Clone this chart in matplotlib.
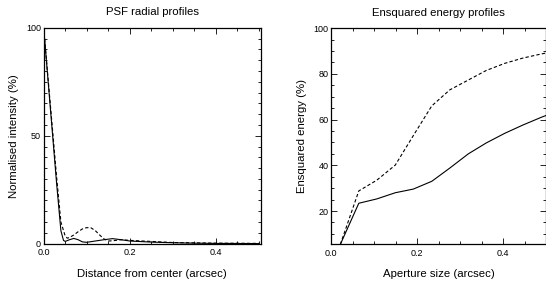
import matplotlib
matplotlib.use("Agg")
import matplotlib.pyplot as plt
from matplotlib.ticker import MultipleLocator

plt.rcParams['font.family'] = ['Liberation Sans', 'DejaVu Sans']

# PSF radial profiles (left)
psf_solid_x = [0, 0.01, 0.02, 0.03, 0.04, 0.046, 0.05, 0.06, 0.07, 0.08, 0.09, 0.10,
               0.12, 0.14, 0.16, 0.18, 0.20, 0.25, 0.30, 0.35, 0.40, 0.45, 0.50]
psf_solid_y = [100, 76, 52, 28, 6, 1.5, 1.0, 1.8, 2.4, 1.8, 0.8, 0.6,
               1.2, 1.8, 2.3, 1.8, 1.2, 0.7, 0.4, 0.2, 0.1, 0.05, 0.0]
psf_dash_x = [0, 0.01, 0.02, 0.03, 0.04, 0.05, 0.055, 0.06, 0.07, 0.08, 0.09, 0.10,
              0.11, 0.12, 0.13, 0.14, 0.15, 0.16, 0.18, 0.20, 0.25, 0.30, 0.40, 0.50]
psf_dash_y = [100, 77, 54, 31, 10, 3.5, 2.5, 2.8, 4.0, 5.5, 6.8, 7.4,
              7.3, 6.0, 4.0, 2.2, 1.2, 1.3, 1.8, 1.5, 1.0, 0.5, 0.2, 0.1]

# Ensquared energy profiles (right)
ee_x = [0.021, 0.064, 0.106, 0.149, 0.191, 0.234, 0.276, 0.319, 0.361, 0.404,
        0.446, 0.489, 0.531]
ee_solid = [5.4, 23.4, 25.3, 28.0, 29.6, 33.0, 38.8, 45.0, 49.8, 54.0, 57.6, 61.0, 64.0]
ee_dash = [5.4, 28.8, 33.5, 40.1, 53.0, 66.0, 73.0, 77.3, 81.5, 84.6, 86.9, 88.7, 90.2]

fig = plt.figure(figsize=(5.46, 2.90), dpi=100)
ax1 = fig.add_axes([0.080, 0.160, 0.398, 0.744])
ax2 = fig.add_axes([0.6068, 0.158, 0.3932, 0.745])

lw = 0.8
ax1.plot(psf_solid_x, psf_solid_y, color='black', lw=lw)
ax1.plot(psf_dash_x, psf_dash_y, color='black', lw=lw, ls=(0, (3, 2)))
ax1.set_xlim(0, 0.505)
ax1.set_ylim(0, 100)
ax1.xaxis.set_major_locator(MultipleLocator(0.2))
ax1.xaxis.set_minor_locator(MultipleLocator(0.05))
ax1.yaxis.set_major_locator(MultipleLocator(50))
ax1.yaxis.set_minor_locator(MultipleLocator(5))
ax1.set_title('PSF radial profiles', fontsize=8.2, pad=9)
ax1.set_xlabel('Distance from center (arcsec)', fontsize=8.2, labelpad=8)
ax1.set_ylabel('Normalised intensity (%)', fontsize=8.2, labelpad=5)

ax2.plot(ee_x, ee_solid, color='black', lw=lw)
ax2.plot(ee_x, ee_dash, color='black', lw=lw, ls=(0, (3, 2)))
ax2.set_xlim(0, 0.5)
ax2.set_ylim(5.5, 100)
ax2.xaxis.set_major_locator(MultipleLocator(0.2))
ax2.xaxis.set_minor_locator(MultipleLocator(0.05))
ax2.yaxis.set_major_locator(MultipleLocator(20))
ax2.yaxis.set_minor_locator(MultipleLocator(5))
ax2.set_title('Ensquared energy profiles', fontsize=8.2, pad=9)
ax2.set_xlabel('Aperture size (arcsec)', fontsize=8.2, labelpad=8)
ax2.set_ylabel('Ensquared energy (%)', fontsize=8.2, labelpad=5)

for ax in (ax1, ax2):
    for s in ax.spines.values():
        s.set_linewidth(0.9)
    ax.tick_params(which='both', direction='in', top=True, right=True,
                   labelsize=6.5, width=0.6, pad=2)
    ax.tick_params(axis='x', which='both', pad=3.5)
    ax.tick_params(which='major', length=4)
    ax.tick_params(which='minor', length=2)
    ax.xaxis.set_major_formatter(matplotlib.ticker.FormatStrFormatter('%.1f'))

fig.savefig('out.png', dpi=100)
